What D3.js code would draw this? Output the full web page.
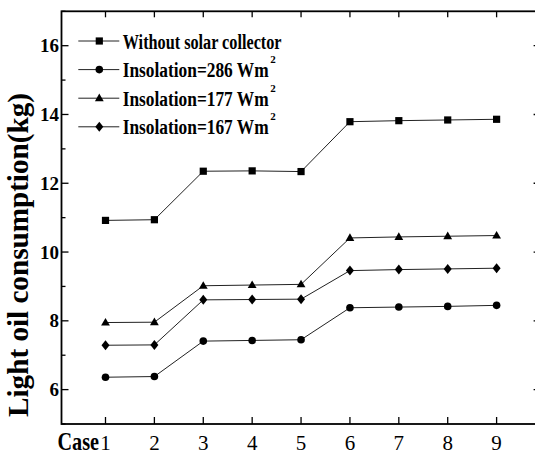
<!DOCTYPE html>
<html>
<head>
<meta charset="utf-8">
<script src="https://cdn.jsdelivr.net/npm/d3@7"></script>
<style>
  body { margin: 0; background: #fff; }
  text { font-family: "Liberation Serif", "Times New Roman", serif; fill: #000; }
</style>
</head>
<body>
<div id="chart"></div>
<script>
const W = 535, H = 455;

// data
const cases = [1, 2, 3, 4, 5, 6, 7, 8, 9];
const noCollector = [10.92, 10.94, 12.35, 12.36, 12.34, 13.79, 13.82, 13.84, 13.86];
const ins286 = [6.36, 6.38, 7.41, 7.43, 7.45, 8.38, 8.40, 8.42, 8.45];
const ins177 = [7.95, 7.96, 9.02, 9.04, 9.06, 10.41, 10.44, 10.46, 10.48];
const ins167 = [7.29, 7.30, 8.61, 8.62, 8.63, 9.46, 9.49, 9.51, 9.53];
const yMajor = [6, 8, 10, 12, 14, 16];
const yMinor = [5, 7, 9, 11, 13, 15, 17];

const series = [
  {name: 'Without solar collector', sup: null, values: noCollector, shape: 'square'},
  {name: 'Insolation=286 Wm', sup: '2', values: ins286, shape: 'circle'},
  {name: 'Insolation=177 Wm', sup: '2', values: ins177, shape: 'triangle'},
  {name: 'Insolation=167 Wm', sup: '2', values: ins167, shape: 'diamond'},
];
const legendWidths = [159, 146, 146, 146];

const svg = d3.select('#chart').append('svg')
    .attr('width', W)
    .attr('height', H);

// plot frame runs past the right edge of the window, like the original crop
const x = d3.scaleLinear().domain([0.1, 9.9]).range([61.5, 540.6]);
const y = d3.scaleLinear().domain([5, 17]).range([424, 11.3]);

// the original type is condensed: squeeze a text to a given width
const fit = (t, px, py, width, rot) => {
  const k = width / t.node().getComputedTextLength();
  t.attr('transform', `translate(${px},${py})${rot ? ` rotate(${rot})` : ''} scale(${k},1)`);
  return t;
};

// marker paths centred on 0,0
const marker = shape => {
  switch (shape) {
    case 'square': return 'M-3.6,-3.6H3.6V3.6H-3.6Z';
    case 'circle': return 'M3.8,0A3.8,3.8 0 1,1 -3.8,0A3.8,3.8 0 1,1 3.8,0Z';
    case 'triangle': return 'M0,-4.6L4.4,3L-4.4,3Z';
    case 'diamond': return 'M0,-5L4,0L0,5L-4,0Z';
  }
};

// frame
const [x0, x1] = x.range(), [y0, y1] = y.range();
svg.append('rect')
    .attr('x', x0).attr('y', y1)
    .attr('width', x1 - x0).attr('height', y0 - y1)
    .attr('fill', 'none').attr('stroke', '#000').attr('stroke-width', 1.8);

// x ticks (bottom and top, inward)
const xt = svg.append('g').attr('class', 'xticks');
cases.forEach(c => {
  xt.append('line').attr('x1', x(c)).attr('x2', x(c)).attr('y1', y0).attr('y2', y0 - 7)
      .attr('stroke', '#000').attr('stroke-width', 1.3);
  xt.append('line').attr('x1', x(c)).attr('x2', x(c)).attr('y1', y1).attr('y2', y1 + 6)
      .attr('stroke', '#000').attr('stroke-width', 1.3);
  xt.append('text').attr('x', x(c)).attr('y', 449.5)
      .attr('text-anchor', 'middle').style('font-size', '21px')
      .text(c);
});
fit(svg.append('text')
    .style('font-size', '25px').style('font-weight', 'bold')
    .text('Case'), 57.5, 450, 41.5);

// y ticks (left and right, inward)
const yt = svg.append('g').attr('class', 'yticks');
yMajor.forEach(v => {
  yt.append('line').attr('x1', x0).attr('x2', x0 + 7).attr('y1', y(v)).attr('y2', y(v))
      .attr('stroke', '#000').attr('stroke-width', 1.3);
  yt.append('line').attr('x1', x1).attr('x2', x1 - 7).attr('y1', y(v)).attr('y2', y(v))
      .attr('stroke', '#000').attr('stroke-width', 1.3);
  yt.append('text').attr('x', 59).attr('y', y(v)).attr('dy', '0.34em')
      .attr('text-anchor', 'end').style('font-size', '19px').style('font-weight', 'bold')
      .text(v);
});
yMinor.forEach(v => {
  yt.append('line').attr('x1', x0).attr('x2', x0 + 4).attr('y1', y(v)).attr('y2', y(v))
      .attr('stroke', '#000').attr('stroke-width', 1.3);
  yt.append('line').attr('x1', x1).attr('x2', x1 - 4).attr('y1', y(v)).attr('y2', y(v))
      .attr('stroke', '#000').attr('stroke-width', 1.3);
});

// y title
fit(svg.append('text')
    .attr('text-anchor', 'middle')
    .style('font-size', '29px').style('font-weight', 'bold')
    .text('Light oil consumption(kg)'), 28, 255, 324, -90);

// series
const line = d3.line().x((d, i) => x(cases[i])).y(d => y(d));
const sg = svg.append('g').attr('class', 'series');
series.forEach(s => {
  sg.append('path').datum(s.values)
      .attr('d', line).attr('fill', 'none')
      .attr('stroke', '#222').attr('stroke-width', 1);
  sg.selectAll(null).data(s.values).enter().append('path')
      .attr('transform', (d, i) => `translate(${x(cases[i])},${y(d)})`)
      .attr('d', marker(s.shape))
      .attr('fill', '#000');
});

// legend
const lg = svg.append('g').attr('class', 'legend');
series.forEach((s, i) => {
  const cy = 41 + i * 28.6;
  lg.append('line').attr('x1', 78.3).attr('x2', 119.3).attr('y1', cy).attr('y2', cy)
      .attr('stroke', '#222').attr('stroke-width', 1);
  lg.append('path').attr('transform', `translate(99.3,${cy})`)
      .attr('d', marker(s.shape)).attr('fill', '#000');
  fit(lg.append('text')
      .style('font-size', '21px').style('font-weight', 'bold')
      .text(s.name), 122.7, cy + 7.5, legendWidths[i]);
  // superscript "2" after Wm
  if (s.sup) {
    lg.append('text').attr('x', 122.7 + legendWidths[i] + 1.5).attr('y', cy - 6.5)
        .style('font-size', '11px').style('font-weight', 'bold')
        .text(s.sup);
  }
});
</script>
</body>
</html>
